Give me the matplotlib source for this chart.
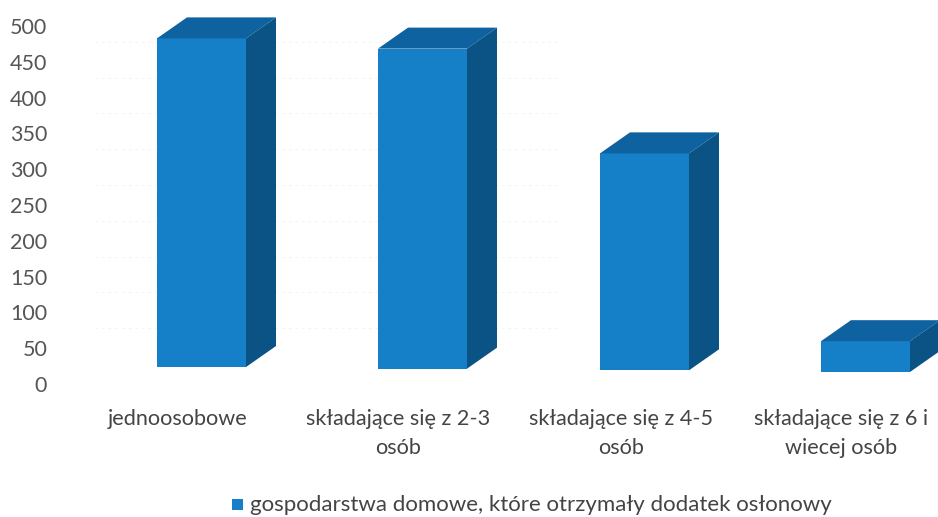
import matplotlib
matplotlib.use("Agg")
import matplotlib.pyplot as plt
from matplotlib.patches import Polygon

plt.rcParams['font.family'] = ['Lato', 'DejaVu Sans']

categories = ["jednoosobowe", "składające się z 2-3\nosób", "składające się z 4-5\nosób", "składające się z 6 i\nwiecej osób"]
values = [459, 447, 303, 43]
yticks = [0, 50, 100, 150, 200, 250, 300, 350, 400, 450, 500]
legend_label = "gospodarstwa domowe, które otrzymały dodatek osłonowy"

W, H = 938, 517
fig = plt.figure(figsize=(W/100, H/100), dpi=100, facecolor="#ffffff")
ax = fig.add_axes([0, (H-384)/H, 1, (384-26)/H])
ax.set_xlim(0, W)
ax.set_ylim(0, 500)
ax.set_facecolor("none")
for s in ax.spines.values():
    s.set_visible(False)
ax.set_yticks(yticks)
ax.tick_params(axis='y', length=0, pad=-34, labelsize=15.5, labelcolor="#555555")
for lab in ax.get_yticklabels():
    lab.set_ha('right')

for v in yticks[1:]:
    ax.plot([95, 560], [v+28, v+28], color="#f0f0ec", lw=0.6, ls=(0, (3, 5)), zorder=0)

lefts = [157, 378, 600, 821]
bw = 89
dx, dy = 30, 21/0.716
base0, tilt = 23.7, 2.3
front, top, side = "#1580c8", "#0e62a0", "#0b5285"
for i, (x, v) in enumerate(zip(lefts, values)):
    b = base0 - tilt*i
    t = b + v
    ax.add_patch(Polygon([(x, b), (x+bw, b), (x+bw, t), (x, t)], fc=front, ec="none", zorder=3))
    ax.add_patch(Polygon([(x, t), (x+bw, t), (x+bw+dx, t+dy), (x+dx, t+dy)], fc=top, ec="none", zorder=3, clip_on=False))
    ax.add_patch(Polygon([(x+bw, b), (x+bw+dx, b+dy), (x+bw+dx, t+dy), (x+bw, t)], fc=side, ec="none", zorder=3, clip_on=False))

ax.set_xticks([178, 398, 621, 841])
ax.set_xticklabels(categories, fontsize=15.6, color="#444444", linespacing=1.55, ha='center')
ax.tick_params(axis='x', length=0, pad=18)

fig.patches.append(plt.Rectangle((232/W, 1-510/H), 11/W, 11/H, transform=fig.transFigure, fc="#1580c8", ec="none"))
fig.text(250/W, 1-505/H, legend_label, fontsize=16, color="#444444", va='center', ha='left')
fig.savefig("out.png", dpi=100, facecolor=fig.get_facecolor())
